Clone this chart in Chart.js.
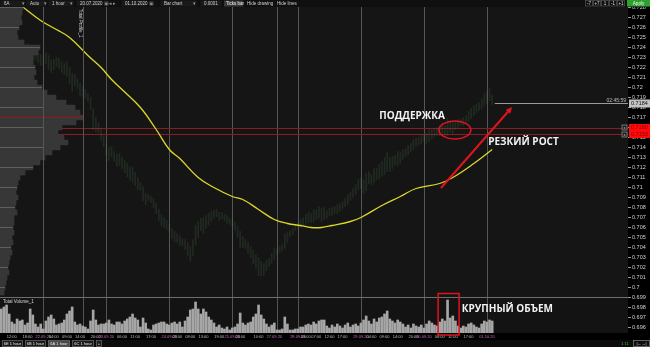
<!DOCTYPE html>
<html lang="ru">
<head>
<meta charset="UTF-8">
<title>6A 1 hour</title>
<script src="https://cdn.jsdelivr.net/npm/chart.js@4.4.1/dist/chart.umd.min.js"></script>
<style>
  html, body { margin: 0; padding: 0; background: #000; }
  #wrap { position: relative; width: 650px; height: 347px; overflow: hidden; background: #000; }
  #wrap canvas { position: absolute; }
  #priceChart { left: 0; top: 0; }
  #profileChart { left: 0; top: 7px; }
  #volumeChart { left: 0; top: 290px; }
</style>
</head>
<body>
<div id="wrap">
  <canvas id="priceChart" width="650" height="347"></canvas>
  <canvas id="profileChart" width="84" height="290"></canvas>
  <canvas id="volumeChart" width="628" height="47"></canvas>
</div>

<script>
// 6A, 1 hour bars, 21.09.2020 08:00 -> 01.10.2020 02:00 (bar index = x)
const priceHigh = [
  .7251,.7254,.7257,.7252,.7255,.7253,.7249,.7247,.7246,.7243,
  .7244,.7242,.7237,.7238,.7235,.7233,.7231,.7235,.7232,.7228,
  .7228,.7230,.7229,.7226,.7224,.7226,.7220,.7214,.7213,.7209,
  .7204,.7201,.7198,.7194,.7190,.7179,.7170,.7165,.7158,.7152,
  .7144,.7140,.7141,.7136,.7133,.7134,.7130,.7127,.7124,.7121,
  .7120,.7115,.7110,.7105,.7101,.7094,.7093,.7091,.7089,.7084,
  .7078,.7073,.7070,.7067,.7064,.7059,.7056,.7054,.7052,.7049,
  .7048,.7045,.7041,.7048,.7062,.7066,.7069,.7070,.7072,.7074,
  .7076,.7077,.7078,.7075,.7075,.7073,.7072,.7069,.7068,.7065,
  .7061,.7056,.7051,.7048,.7045,.7041,.7037,.7033,.7030,.7026,
  .7024,.7027,.7029,.7034,.7039,.7039,.7041,.7043,.7054,.7055,
  .7057,.7059,.7063,.7065,.7068,.7070,.7073,.7075,.7074,.7078,
  .7078,.7081,.7079,.7080,.7077,.7079,.7080,.7081,.7083,.7084,
  .7086,.7089,.7093,.7095,.7099,.7103,.7108,.7110,.7108,.7114,
  .7116,.7113,.7119,.7119,.7123,.7126,.7130,.7135,.7130,.7131,
  .7132,.7136,.7135,.7138,.7139,.7142,.7144,.7148,.7149,.7150,
  .7152,.7153,.7154,.7158,.7158,.7159,.7160,.7162,.7164,.7162,
  .7169,.7167,.7166,.7166,.7168,.7168,.7170,.7172,.7176,.7179,
  .7182,.7183,.7185,.7189,.7194,.7196,.7199,.7192
];
const priceLow = [
  .7236,.7240,.7242,.7240,.7243,.7241,.7238,.7236,.7233,.7232,
  .7233,.7226,.7224,.7228,.7225,.7222,.7223,.7224,.7218,.7215,
  .7218,.7221,.7219,.7215,.7213,.7211,.7204,.7196,.7202,.7199,
  .7192,.7191,.7189,.7186,.7178,.7158,.7156,.7155,.7147,.7141,
  .7132,.7127,.7131,.7126,.7121,.7122,.7119,.7115,.7111,.7107,
  .7105,.7102,.7098,.7097,.7087,.7083,.7087,.7085,.7080,.7074,
  .7067,.7062,.7060,.7058,.7056,.7049,.7046,.7045,.7042,.7042,
  .7038,.7032,.7026,.7032,.7042,.7050,.7057,.7054,.7059,.7063,
  .7066,.7069,.7071,.7067,.7069,.7067,.7064,.7063,.7061,.7057,
  .7050,.7040,.7040,.7039,.7034,.7030,.7024,.7019,.7012,.7012,
  .7012,.7017,.7021,.7024,.7028,.7033,.7035,.7037,.7039,.7045,
  .7051,.7053,.7057,.7059,.7060,.7062,.7063,.7065,.7065,.7066,
  .7068,.7069,.7066,.7068,.7069,.7072,.7072,.7074,.7074,.7076,
  .7079,.7081,.7083,.7087,.7090,.7093,.7098,.7099,.7094,.7097,
  .7104,.7103,.7105,.7108,.7109,.7111,.7113,.7116,.7116,.7119,
  .7122,.7122,.7124,.7128,.7131,.7133,.7136,.7138,.7141,.7142,
  .7144,.7146,.7144,.7146,.7148,.7151,.7152,.7152,.7153,.7152,
  .7152,.7155,.7154,.7158,.7160,.7162,.7162,.7164,.7166,.7169,
  .7172,.7175,.7177,.7179,.7182,.7184,.7187,.7183
];
const volume = [
  2400,2600,2800,1900,1100,900,1400,1200,1300,800,
  1000,2400,1800,900,600,900,400,1200,1600,1800,
  1400,800,900,1000,1300,1900,2200,2600,1100,800,
  900,700,600,400,1200,2300,1300,800,900,900,
  1000,1300,900,800,1100,1100,900,1200,1400,1600,
  1900,1500,1300,600,1500,1000,400,300,800,900,
  1000,1100,1100,900,800,1000,1100,900,1100,600,
  1200,1600,2300,2400,3100,2400,1900,2400,2100,1600,
  1300,1000,600,800,500,400,600,300,500,600,
  900,2000,1000,800,1000,1100,1600,1900,2800,1800,
  1400,900,600,800,1000,300,300,400,1600,900,
  300,300,400,400,600,600,800,900,800,1100,
  900,1200,1300,1300,700,500,800,600,900,700,
  500,800,1000,600,800,900,700,1000,1300,1700,
  1200,900,1400,1100,1500,1600,1900,2200,1400,1200,
  1000,1300,1100,900,600,800,500,900,700,600,
  800,500,900,1200,1000,800,700,1100,1400,1200,
  3300,1500,1700,1200,700,500,700,600,900,1000,
  800,600,500,900,1200,1100,1300,1200
];

// moving average, read at these bars
const maIndex = [7, 15, 21, 26, 33, 38, 42, 46, 53, 59, 64, 68, 75, 81, 88, 92,
                 98, 104, 109, 114, 118, 122, 126, 133, 137, 145, 152, 158, 167, 172, 180, 187];
const maValue = [0.7283, 0.7267, 0.7258, 0.7250, 0.7232, 0.7220, 0.7208, 0.7198,
                 0.7180, 0.7158, 0.7138, 0.7129, 0.7110, 0.7100, 0.7091, 0.7088,
                 0.7078, 0.7068, 0.7064, 0.7062, 0.7060, 0.7060, 0.7062, 0.7066,
                 0.7070, 0.7082, 0.7091, 0.7099, 0.7104, 0.7110, 0.7124, 0.7138];

// volume profile (Total Profile_1)
const profileLevel = [
  0.7280,0.7275,0.7270,0.7265,0.7260,0.7255,0.7250,0.7245,0.7240,0.7235,
  0.7230,0.7225,0.7220,0.7215,0.7210,0.7205,0.7200,0.7195,0.7190,0.7185,
  0.7180,0.7175,0.7170,0.7165,0.7160,0.7155,0.7150,0.7145,0.7140,0.7135,
  0.7130,0.7125,0.7120,0.7115,0.7110,0.7105,0.7100,0.7095,0.7090,0.7085,
  0.7080,0.7075,0.7070,0.7065,0.7060,0.7055,0.7050,0.7045,0.7040,0.7035,
  0.7030,0.7025,0.7020,0.7015,0.7010,0.7005,0.7000,0.6995
];
const profileVolume = [
  1150,1100,1050,1100,950,850,900,1200,2000,1900,
  1650,1650,1750,1800,1700,1850,2100,2350,2800,3300,
  3750,4000,4150,3800,3100,2900,3200,3400,3000,2600,
  2250,2000,1650,1250,1000,900,850,800,900,800,
  750,850,700,700,650,700,600,650,550,600,
  500,450,400,450,350,300,250,200
];

const timeTickIndex = [4, 10, 16, 20, 25, 30, 36, 40, 46, 51, 57, 64, 67, 72, 77, 83, 88, 91, 98,
                       104, 113, 116, 120, 125, 130, 137, 141, 146, 151, 157, 161, 167, 172, 178, 185];
const timeTickLabel = ['12:00', '18:00', '22.09.20', '04:00', '09:00', '14:00', '20:00', '23.09.20',
                       '06:00', '11:00', '17:00', '24.09.20', '03:00', '08:00', '13:00', '19:00',
                       '25.09.20', '03:00', '10:00', '27.09.20', '28.09.20', '03:00', '07:00',
                       '12:00', '17:00', '29.09.20', '04:00', '09:00', '14:00', '20:00', '30.09.20',
                       '06:00', '11:00', '17:00', '01.10.20'];
const dayStartIndex = [16, 40, 64, 88, 105, 113, 137, 161, 185];

const supportLevels = [0.7160, 0.7153];
const lastPrice = 0.7184;
const timeLeft = '02:45:59';

const xMin = -0.495, xMax = 238.745;
const FONT = '"Liberation Sans", Arial, sans-serif';
const NOTE_FONT = 'bold 10px "Open Sans", "Liberation Sans", sans-serif';

Chart.defaults.font.family = FONT;

function txt(ctx, s, x, y, color, font, align) {
    ctx.fillStyle = color;
    ctx.font = font;
    ctx.textAlign = align || 'left';
    ctx.textBaseline = 'middle';
    ctx.fillText(s, x, y);
}

function drawToolbar(ctx) {
    ctx.fillStyle = '#0f0f0f';
    ctx.fillRect(0, 0, 650, 7);
    const f = '4.5px ' + FONT;
    const fields = [[0, 25, '6A'], [26, 47, 'Auto'], [48, 74, '1 hour'], [76, 102, '20.07.2020'],
                    [121, 147, '01.10.2020'], [160, 197, 'Bar chart'], [200, 222, '0.0001']];
    fields.forEach(([a, b, s]) => {
        ctx.fillStyle = '#1a1a1a';
        ctx.fillRect(a + 0.5, 0.5, b - a - 1, 6);
        txt(ctx, s, a + 4, 3.5, '#cfcfcf', f);
    });
    [22, 44, 70, 193].forEach(x => txt(ctx, '▾', x, 3.5, '#999', f));
    txt(ctx, '▣', 104, 3.5, '#888', f);
    txt(ctx, '◂ ▸', 109, 3.5, '#999', f);
    txt(ctx, '▣', 149, 3.5, '#888', f);
    ctx.fillStyle = '#3a3a3a';
    ctx.fillRect(224, 0.5, 19, 6);
    txt(ctx, 'Ticks bar', 226, 3.5, '#eee', f);
    txt(ctx, 'Hide drawing', 247, 3.5, '#cfcfcf', f);
    txt(ctx, 'Hide lines', 277, 3.5, '#cfcfcf', f);
    [['-7', 585], ['+7', 593], ['1', 601], ['-1', 609], ['+1', 617]].forEach(([s, x]) => {
        ctx.strokeStyle = '#555';
        ctx.strokeRect(x + 0.5, 0.5, 7, 5.5);
        txt(ctx, s, x + 4, 3.5, '#ddd', f, 'center');
    });
    ctx.fillStyle = '#2ea02e';
    ctx.fillRect(627, 0, 23, 6.5);
    txt(ctx, 'Apply', 638.5, 3.3, '#f4f4f4', f, 'center');
}

function drawTabs(ctx) {
    ctx.fillStyle = '#0c0c0c';
    ctx.fillRect(0, 340, 650, 7);
    const f = '4px ' + FONT;
    [['6E 1 hour', 2, 23], ['6B 1 hour', 25, 46], ['6A 1 hour', 48, 70], ['6C 1 hour', 72, 94], ['+', 96, 102]]
        .forEach(([s, a, b]) => {
            ctx.fillStyle = s.startsWith('6A') ? '#4a4a4a' : '#1b1b1b';
            ctx.fillRect(a, 340.5, b - a, 6);
            ctx.strokeStyle = '#6a6a6a';
            ctx.strokeRect(a + 0.5, 340.5, b - a - 1, 6);
            txt(ctx, s, (a + b) / 2, 343.7, '#e6e6e6', f, 'center');
        });
    txt(ctx, '1 11', 625, 343.5, '#3bbf3b', f, 'center');
    ctx.strokeStyle = '#888';
    ctx.strokeRect(633.5, 340.5, 16, 6);
    txt(ctx, '|←→|', 641.5, 343.5, '#ddd', f, 'center');
}

const priceDeco = {
    id: 'priceDeco',
    beforeDraw(chart) {
        const {ctx, chartArea: a} = chart;
        ctx.save();
        ctx.fillStyle = '#000';
        ctx.fillRect(0, 0, chart.width, chart.height);
        ctx.fillStyle = '#151515';
        ctx.fillRect(a.left, a.top, a.right - a.left, a.bottom - a.top);
        ctx.restore();
    },
    beforeDatasetsDraw(chart) {
        const {ctx, chartArea: a, scales: {x, y}} = chart;
        ctx.save();
        ctx.lineWidth = 1;
        ctx.strokeStyle = '#555';
        dayStartIndex.forEach(i => {
            const px = Math.round(x.getPixelForValue(i)) + 0.5;
            ctx.beginPath();
            ctx.moveTo(px, a.top);
            ctx.lineTo(px, a.bottom);
            ctx.stroke();
        });
        ctx.strokeStyle = '#8e1b22';
        supportLevels.forEach(p => {
            const py = Math.round(y.getPixelForValue(p)) + 0.5;
            ctx.beginPath();
            ctx.moveTo(a.left, py);
            ctx.lineTo(a.right, py);
            ctx.stroke();
        });
        ctx.restore();
    },
    afterDatasetsDraw(chart) {
        const {ctx, chartArea: a, scales: {x, y}} = chart;
        ctx.save();
        // last price line
        const ly = Math.round(y.getPixelForValue(lastPrice)) + 0.5;
        ctx.strokeStyle = '#9a9a9a';
        ctx.lineWidth = 1;
        ctx.beginPath();
        ctx.moveTo(x.getPixelForValue(priceHigh.length), ly);
        ctx.lineTo(a.right, ly);
        ctx.stroke();
        txt(ctx, timeLeft, a.right - 2, ly - 3, '#bdbdbd', '5px ' + FONT, 'right');

        // support ellipse
        ctx.strokeStyle = '#e0141c';
        ctx.lineWidth = 1.5;
        ctx.beginPath();
        ctx.ellipse(x.getPixelForValue(172.8), y.getPixelForValue(0.71575), 16, 9, 0, 0, Math.PI * 2);
        ctx.stroke();

        // arrow
        const x0 = x.getPixelForValue(167.5), y0 = y.getPixelForValue(0.70995);
        const x1 = x.getPixelForValue(194.6), y1 = y.getPixelForValue(0.71805);
        const ang = Math.atan2(y1 - y0, x1 - x0);
        ctx.lineWidth = 2;
        ctx.beginPath();
        ctx.moveTo(x0, y0);
        ctx.lineTo(x1 - 4 * Math.cos(ang), y1 - 4 * Math.sin(ang));
        ctx.stroke();
        ctx.fillStyle = '#e0141c';
        ctx.beginPath();
        ctx.moveTo(x1, y1);
        ctx.lineTo(x1 - 7 * Math.cos(ang - 0.45), y1 - 7 * Math.sin(ang - 0.45));
        ctx.lineTo(x1 - 7 * Math.cos(ang + 0.45), y1 - 7 * Math.sin(ang + 0.45));
        ctx.closePath();
        ctx.fill();

        txt(ctx, 'ПОДДЕРЖКА', x.getPixelForValue(144), y.getPixelForValue(0.7171), '#f2f2f2', NOTE_FONT);
        txt(ctx, 'РЕЗКИЙ РОСТ', x.getPixelForValue(185.5), y.getPixelForValue(0.71455), '#f2f2f2', NOTE_FONT);
        ctx.restore();
    },
    afterDraw(chart) {
        const {ctx, chartArea: a, scales: {y}} = chart;
        ctx.save();
        // axis price boxes
        const ly = y.getPixelForValue(lastPrice);
        ctx.fillStyle = '#c4c4c4';
        ctx.fillRect(a.right + 1, ly - 4, 21, 8);
        txt(ctx, lastPrice.toFixed(4), a.right + 3, ly + 0.3, '#111', '5.5px ' + FONT);
        supportLevels.forEach(p => {
            const py = y.getPixelForValue(p);
            ctx.fillStyle = '#ff0a0a';
            ctx.fillRect(a.right + 1, py - 3.5, 21, 7);
            txt(ctx, p.toFixed(4), a.right + 3, py + 0.3, '#8a0000', '5.5px ' + FONT);
            ctx.fillStyle = '#1c1c1c';
            ctx.fillRect(a.right - 6, py - 2.5, 5, 5);
            ctx.strokeStyle = '#9a9a9a';
            ctx.lineWidth = 0.7;
            ctx.strokeRect(a.right - 6, py - 2.5, 5, 5);
            txt(ctx, 'x', a.right - 3.5, py, '#ccc', '4px ' + FONT, 'center');
        });
        drawToolbar(ctx);
        drawTabs(ctx);
        ctx.restore();
    }
};

const priceChart = new Chart(document.getElementById('priceChart'), {
    type: 'bar',
    data: {
        datasets: [
            {
                type: 'line',
                label: 'MA',
                data: maIndex.map((v, k) => ({x: v, y: maValue[k]})),
                borderColor: '#dcd82a',
                borderWidth: 1.3,
                pointRadius: 0,
                tension: 0.4,
                order: 0
            },
            {
                type: 'bar',
                label: '6A',
                data: priceHigh.map((h, i) => ({x: i, y: [priceLow[i], h]})),
                backgroundColor: 'rgba(80,130,80,0.2)',
                barThickness: 1,
                order: 1
            }
        ]
    },
    options: {
        responsive: false,
        animation: false,
        events: [],
        layout: {padding: {top: 7, bottom: 7, left: 0, right: 0}},
        plugins: {legend: {display: false}, tooltip: {enabled: false}},
        scales: {
            x: {
                type: 'linear',
                min: xMin,
                max: xMax,
                offset: false,
                grid: {display: false, drawTicks: false},
                border: {display: false},
                afterBuildTicks: s => { s.ticks = timeTickIndex.map(v => ({value: v})); },
                afterFit: s => { s.height = 7; s.paddingLeft = 0; s.paddingRight = 0; },
                ticks: {
                    autoSkip: false,
                    maxRotation: 0,
                    padding: 1,
                    font: {size: 4},
                    color: c => timeTickLabel[c.index] && timeTickLabel[c.index].includes('.') ? '#c86ac8' : '#bdbdbd',
                    callback: (v, i) => timeTickLabel[i]
                }
            },
            y: {
                position: 'right',
                min: 0.69545,
                max: 0.72805,
                grid: {drawOnChartArea: false, drawTicks: true, tickLength: 3, color: '#9a9a9a'},
                border: {display: false},
                afterFit: s => { s.width = 22; s.paddingTop = 0; s.paddingBottom = 0; },
                ticks: {
                    stepSize: 0.001,
                    includeBounds: false,
                    padding: 1,
                    font: {size: 5.5},
                    color: '#d0d0d0',
                    callback: v => parseFloat(v.toFixed(3)).toString()
                }
            }
        }
    },
    plugins: [priceDeco]
});

const profileDeco = {
    id: 'profileDeco',
    afterDatasetsDraw(chart) {
        const {ctx, chartArea: a, scales: {x, y}} = chart;
        const cut = priceChart.scales.x.getPixelForValue(dayStartIndex[0]);
        ctx.save();
        ctx.lineWidth = 1;
        profileLevel.forEach((p, k) => {
            if (Math.abs(p * 500 - Math.round(p * 500)) > 1e-6) return;
            const py = Math.round(y.getPixelForValue(p)) + 0.5;
            ctx.strokeStyle = '#5e5e5e';
            ctx.beginPath();
            ctx.moveTo(a.left, py);
            ctx.lineTo(Math.min(x.getPixelForValue(profileVolume[k]), cut), py);
            ctx.stroke();
        });
        // point of control
        const poc = profileVolume.indexOf(Math.max(...profileVolume));
        const pocY = Math.round(y.getPixelForValue(profileLevel[poc])) + 0.5;
        ctx.strokeStyle = '#8e1b22';
        ctx.beginPath();
        ctx.moveTo(a.left, pocY);
        ctx.lineTo(x.getPixelForValue(profileVolume[poc]), pocY);
        ctx.stroke();

        ctx.strokeStyle = '#555';
        [Math.round(cut) + 0.5, a.right - 0.5].forEach(px => {
            ctx.beginPath();
            ctx.moveTo(px, a.top);
            ctx.lineTo(px, a.bottom);
            ctx.stroke();
        });
        ctx.translate(80, 2);
        ctx.rotate(Math.PI / 2);
        txt(ctx, 'Total Profile_1', 0, 0, '#dcdcdc', '4.5px ' + FONT);
        ctx.restore();
    }
};

new Chart(document.getElementById('profileChart'), {
    type: 'bar',
    data: {
        datasets: [{
            label: 'Total Profile_1',
            data: profileLevel.map((p, k) => ({x: profileVolume[k], y: p})),
            backgroundColor: '#373737',
            barThickness: 5,
            indexAxis: 'y'
        }]
    },
    options: {
        indexAxis: 'y',
        responsive: false,
        animation: false,
        events: [],
        layout: {padding: 0},
        plugins: {legend: {display: false}, tooltip: {enabled: false}},
        scales: {
            x: {type: 'linear', min: 0, max: 4200, display: false},
            y: {type: 'linear', min: 0.69905, max: 0.72805, display: false, offset: false}
        }
    },
    plugins: [profileDeco]
});

const volumeDeco = {
    id: 'volumeDeco',
    beforeDatasetsDraw(chart) {
        const {ctx, chartArea: a, scales: {x}} = chart;
        ctx.save();
        ctx.fillStyle = '#131313';
        ctx.fillRect(a.left, a.top, a.right - a.left, a.bottom - a.top);
        ctx.lineWidth = 1;
        ctx.strokeStyle = '#555';
        dayStartIndex.forEach(i => {
            const px = Math.round(x.getPixelForValue(i)) + 0.5;
            ctx.beginPath();
            ctx.moveTo(px, a.top);
            ctx.lineTo(px, a.bottom);
            ctx.stroke();
        });
        ctx.beginPath();
        ctx.moveTo(83.5, a.top);
        ctx.lineTo(83.5, a.bottom);
        ctx.stroke();
        ctx.strokeStyle = '#6e6e6e';
        ctx.beginPath();
        ctx.moveTo(a.left, a.top + 0.5);
        ctx.lineTo(a.right, a.top + 0.5);
        ctx.stroke();
        ctx.restore();
    },
    afterDraw(chart) {
        const {ctx, chartArea: a, scales: {x}} = chart;
        ctx.save();
        txt(ctx, 'Total Volume_1', a.left + 3, a.top + 5, '#dcdcdc', '4.5px ' + FONT);
        const l = x.getPixelForValue(166.4), r = x.getPixelForValue(174.4);
        ctx.strokeStyle = '#e0141c';
        ctx.lineWidth = 1.5;
        ctx.strokeRect(l, 3.5, r - l, 41.5);
        txt(ctx, 'КРУПНЫЙ ОБЪЕМ', x.getPixelForValue(175.4), 19, '#f2f2f2', NOTE_FONT);
        ctx.restore();
    }
};

new Chart(document.getElementById('volumeChart'), {
    type: 'bar',
    data: {
        datasets: [{
            label: 'Total Volume_1',
            data: volume.map((v, i) => ({x: i, y: v})),
            backgroundColor: '#a6a6a6',
            barThickness: 2
        }]
    },
    options: {
        responsive: false,
        animation: false,
        events: [],
        layout: {padding: {top: 7, bottom: 4, left: 0, right: 0}},
        plugins: {legend: {display: false}, tooltip: {enabled: false}},
        scales: {
            x: {type: 'linear', min: xMin, max: xMax, offset: false, display: false},
            y: {min: 0, max: 3600, display: false}
        }
    },
    plugins: [volumeDeco]
});
</script>
</body>
</html>
